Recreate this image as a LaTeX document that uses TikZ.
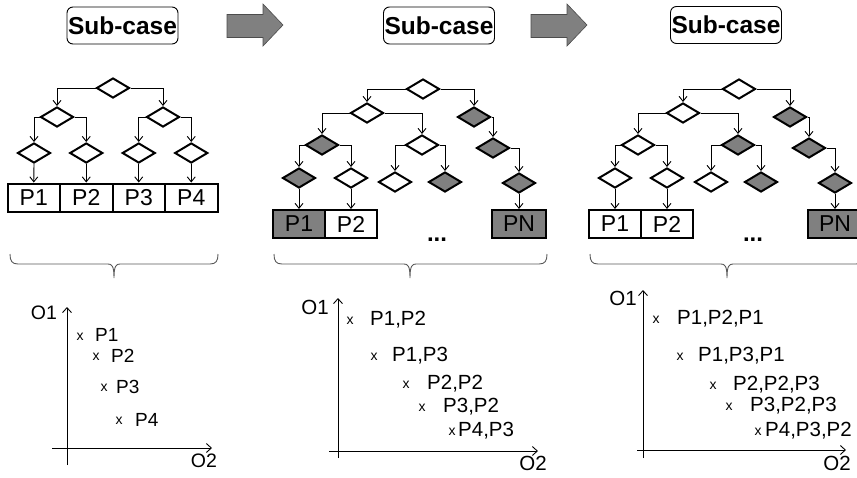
\documentclass[tikz,border=0pt]{standalone}
\usepackage{fontspec}
\setmainfont{Liberation Sans}
\usetikzlibrary{arrows.meta}
\usetikzlibrary{shapes.geometric}
\definecolor{fillgray}{RGB}{128,128,128}

\begin{document}
\begin{tikzpicture}[x=1pt,y=-1pt]
   \tikzset{test/.style={diamond,draw,line width=2pt,minimum width=33pt,minimum height=20pt,inner sep=0pt,fill=white}}
   \tikzset{testg/.style={test,fill=fillgray}}
   \tikzset{link/.style={-{Straight Barb[length=5pt,width=8pt]},line width=0.9pt}}
   \tikzset{part/.style={draw,line width=2pt,minimum width=52.5pt,minimum height=28pt,inner sep=0pt,fill=white,font=\fontsize{23}{23}\selectfont}}
   \tikzset{partg/.style={part,fill=fillgray}}
   \tikzset{title/.style={draw,rounded corners=6pt,line width=0.9pt,minimum width=111pt,minimum height=37pt,inner sep=0pt,font=\fontsize{24.5}{24.5}\selectfont\bfseries}}
   \tikzset{bigarrow/.style={fill=fillgray,draw=black!70,line width=0.6pt}}
   \tikzset{group/.style={draw=black!65,line width=0.9pt}}
   \tikzset{axis/.style={-{Straight Barb[length=5pt,width=9pt]},line width=0.9pt}}
   \tikzset{cross/.style={inner sep=0pt,font=\fontsize{14}{14}\selectfont}}
   \tikzset{sol/.style={anchor=west,inner sep=0pt,font=\fontsize{19}{19}\selectfont}}
   \tikzset{solb/.style={sol,font=\fontsize{20.5}{20.5}\selectfont}}
   \useasboundingbox (0,0) rectangle (857,477);

   % titles and arrows
   \node[title] (t1) at (122.5,25.5) {Sub-case};
   \node[title] (t2) at (439,25.5) {Sub-case};
   \node[title] (t3) at (726,25) {Sub-case};
   \draw[bigarrow] (227,14.5) -- (263,14.5) -- (263,4) -- (283,25) -- (263,46) -- (263,37.5) -- (227,37.5) -- cycle;
   \draw[bigarrow] (531,14.5) -- (567,14.5) -- (567,4) -- (587,25) -- (567,46) -- (567,37.5) -- (531,37.5) -- cycle;

   % first tree
   \node[test] (a0) at (113,88) {};
   \node[test] (a1) at (57,117) {};
   \node[test] (a2) at (163,117) {};
   \node[test] (a11) at (34,153) {};
   \node[test] (a12) at (86.25,153) {};
   \node[test] (a21) at (138.75,153) {};
   \node[test] (a22) at (191.25,153) {};
   \node[part] (ap1) at (33.75,197.5) {P1};
   \node[part] (ap2) at (86.25,197.5) {P2};
   \node[part] (ap3) at (138.75,197.5) {P3};
   \node[part] (ap4) at (191.25,197.5) {P4};
   \draw[link] (a0.west) -| (a1.north);
   \draw[link] (a0.east) -| (a2.north);
   \draw[link] (a1.west) -| (a11.north);
   \draw[link] (a1.east) -| (a12.north);
   \draw[link] (a2.west) -| (a21.north);
   \draw[link] (a2.east) -| (a22.north);
   \draw[link] (a11.south) -- (ap1.north);
   \draw[link] (a12.south) -- (ap2.north);
   \draw[link] (a21.south) -- (ap3.north);
   \draw[link] (a22.south) -- (ap4.north);

   % second tree
   \node[test] (b0) at (423,89) {};
   \node[test] (b1) at (367,113) {};
   \node[testg] (b2) at (474,117) {};
   \node[testg] (b11) at (322,145) {};
   \node[test] (b12) at (422,145) {};
   \node[testg] (b111) at (299,178) {};
   \node[test] (b112) at (351,178) {};
   \node[test] (b121) at (395,182) {};
   \node[testg] (b122) at (445,182) {};
   \node[testg] (b21) at (493,148) {};
   \node[testg] (b211) at (519,183) {};
   \node[partg] (bp1) at (299,224) {P1};
   \node[part] (bp2) at (351,224) {P2};
   \node[partg,minimum width=54pt] (bpn) at (519,224) {PN};
   \node[anchor=base,font=\fontsize{24}{24}\selectfont\bfseries] (bdots) at (437,241) {...};
   \draw[link] (b0.west) -| (b1.north);
   \draw[link] (b0.east) -| (b2.north);
   \draw[link] (b1.west) -| (b11.north);
   \draw[link] (b1.east) -| (b12.north);
   \draw[link] (b11.west) -| (b111.north);
   \draw[link] (b11.east) -| (b112.north);
   \draw[link] (b12.west) -| (b121.north);
   \draw[link] (b12.east) -| (b122.north);
   \draw[link] (b2.east) -| (b21.north);
   \draw[link] (b21.east) -| (b211.north);
   \draw[link] (b111.south) -- (bp1.north);
   \draw[link] (b112.south) -- (bp2.north);
   \draw[link] (b211.south) -- (bpn.north);

   % third tree
   \node[test] (c0) at (739,89) {};
   \node[test] (c1) at (683,113) {};
   \node[testg] (c2) at (790,117) {};
   \node[test] (c11) at (638,145) {};
   \node[testg] (c12) at (738,145) {};
   \node[test] (c111) at (615,178) {};
   \node[test] (c112) at (667,178) {};
   \node[test] (c121) at (711,182) {};
   \node[testg] (c122) at (761,182) {};
   \node[testg] (c21) at (809,148) {};
   \node[testg] (c211) at (835,183) {};
   \node[part] (cp1) at (615,224) {P1};
   \node[part] (cp2) at (667,224) {P2};
   \node[partg,minimum width=54pt] (cpn) at (835,224) {PN};
   \node[anchor=base,font=\fontsize{24}{24}\selectfont\bfseries] (cdots) at (753,241) {...};
   \draw[link] (c0.west) -| (c1.north);
   \draw[link] (c0.east) -| (c2.north);
   \draw[link] (c1.west) -| (c11.north);
   \draw[link] (c1.east) -| (c12.north);
   \draw[link] (c11.west) -| (c111.north);
   \draw[link] (c11.east) -| (c112.north);
   \draw[link] (c12.west) -| (c121.north);
   \draw[link] (c12.east) -| (c122.north);
   \draw[link] (c2.east) -| (c21.north);
   \draw[link] (c21.east) -| (c211.north);
   \draw[link] (c111.south) -- (cp1.north);
   \draw[link] (c112.south) -- (cp2.north);
   \draw[link] (c211.south) -- (cpn.north);

   % braces
   \draw[group] (10,254) .. controls (10,261) and (12,264) .. (18,264) -- (108,264)
      .. controls (112,264) and (114,266) .. (114,278)
      .. controls (114,266) and (116,264) .. (120,264) -- (210,264)
      .. controls (216,264) and (218,261) .. (218,254);
   \draw[group] (274,254) .. controls (274,261) and (276,264) .. (282,264) -- (404,264)
      .. controls (408,264) and (410,266) .. (410,278)
      .. controls (410,266) and (412,264) .. (416,264) -- (539,264)
      .. controls (545,264) and (547,261) .. (547,254);
   \draw[group] (590,254) .. controls (590,261) and (592,264) .. (598,264) -- (721,264)
      .. controls (725,264) and (727,266) .. (727,278)
      .. controls (727,266) and (729,264) .. (733,264) -- (856,264)
      .. controls (862,264) and (864,261) .. (864,254);

   % first plot
   \draw[axis] (67,465) -- (67,307);
   \draw[axis] (52,448) -- (212,448);
   \node[font=\fontsize{19.5}{19.5}\selectfont] (ao1) at (44,313) {O1};
   \node[font=\fontsize{19.5}{19.5}\selectfont] (ao2) at (204,461) {O2};
   \node[cross] (ax1) at (80,337) {x};  \node[sol] (al1) at (95,335) {P1};
   \node[cross] (ax2) at (96,357) {x};  \node[sol] (al2) at (111,356) {P2};
   \node[cross] (ax3) at (104,388) {x}; \node[sol] (al3) at (116,387) {P3};
   \node[cross] (ax4) at (119,421) {x}; \node[sol] (al4) at (135,420) {P4};

   % second plot
   \draw[axis] (338,458) -- (338,298);
   \draw[axis] (329,451) -- (538,451);
   \node[font=\fontsize{20.5}{20.5}\selectfont] (bo1) at (315,307) {O1};
   \node[font=\fontsize{20.5}{20.5}\selectfont] (bo2) at (533,463) {O2};
   \node[cross] (bx1) at (350,321) {x}; \node[solb] (bl1) at (370,320) {P1,P2};
   \node[cross] (bx2) at (374,357) {x}; \node[solb] (bl2) at (392,356) {P1,P3};
   \node[cross] (bx3) at (406,385) {x}; \node[solb] (bl3) at (427,384) {P2,P2};
   \node[cross] (bx4) at (422,408) {x}; \node[solb] (bl4) at (443,407) {P3,P2};
   \node[cross] (bx5) at (452,432) {x}; \node[solb] (bl5) at (458,431) {P4,P3};

   % third plot
   \draw[axis] (643,458) -- (643,290);
   \draw[axis] (637,450) -- (846,450);
   \node[font=\fontsize{20.5}{20.5}\selectfont] (co1) at (623,298) {O1};
   \node[font=\fontsize{20.5}{20.5}\selectfont] (co2) at (837,463) {O2};
   \node[cross] (cx1) at (656,320) {x}; \node[solb] (cl1) at (677,319) {P1,P2,P1};
   \node[cross] (cx2) at (680,357) {x}; \node[solb] (cl2) at (698,356) {P1,P3,P1};
   \node[cross] (cx3) at (713,386) {x}; \node[solb] (cl3) at (733,385) {P2,P2,P3};
   \node[cross] (cx4) at (729,407) {x}; \node[solb] (cl4) at (750,406) {P3,P2,P3};
   \node[cross] (cx5) at (758,432) {x}; \node[solb] (cl5) at (765,431) {P4,P3,P2};
\end{tikzpicture}
\end{document}
